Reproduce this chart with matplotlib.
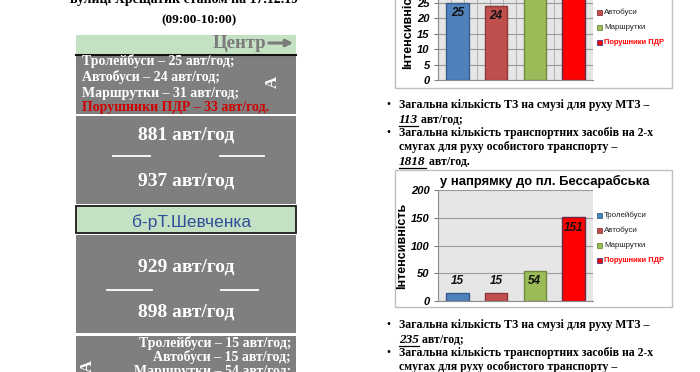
import matplotlib
matplotlib.use("Agg")
import matplotlib.pyplot as plt
from matplotlib.patches import Rectangle
import numpy as np

# ---------------- data ----------------
categories = ['Тролейбуси', 'Автобуси', 'Маршрутки', 'Порушники ПДР']
center_vals = [25, 24, 31, 33]          # у напрямку до Центру
bess_vals = [15, 15, 54, 151]           # у напрямку до пл. Бессарабська
center_flows = [881, 937]               # авт/год, смуги до Центру
bess_flows = [929, 898]                 # авт/год, смуги до пл. Бессарабська
mtz_center = 113
private_center = 1818
mtz_bess = 235
center_yticks = [0, 5, 10, 15, 20, 25, 30, 35]
bess_yticks = [0, 50, 100, 150, 200]
bess_title = 'у напрямку до пл. Бессарабська'
page_title = 'вулиці Хрещатик станом на 17.12.19'
time_label = '(09:00-10:00)'

bar_colors = ['#4f81bd', '#c0504d', '#9bbb59', '#ff0000']
bar_edges = ['#385d8a', '#8c3836', '#71893f', '#6a2a4a']

W, H = 700, 372
SERIF = ['Liberation Serif', 'DejaVu Serif']
SANS = ['Liberation Sans', 'DejaVu Sans']

fig = plt.figure(figsize=(W / 100, H / 100), dpi=100)
fig.patch.set_facecolor('white')

# page overlay in pixel coordinates
pg = fig.add_axes([0, 0, 1, 1], zorder=0)
pg.set_xlim(0, W)
pg.set_ylim(H, 0)
pg.axis('off')

GRAY = '#7f7f7f'
GREEN = '#c5e1c3'
RED_TXT = '#d00000'

# ---------- left diagram ----------
L, R = 76, 296
pg.add_patch(Rectangle((L, 35), R - L, 19, facecolor=GREEN, edgecolor='none'))
pg.plot([L, R], [54.5, 54.5], color='#111111', lw=1.5)
pg.add_patch(Rectangle((L, 55.5), R - L, 58, facecolor=GRAY, edgecolor='none'))
pg.add_patch(Rectangle((L, 116), R - L, 88, facecolor=GRAY, edgecolor='none'))
pg.add_patch(Rectangle((L, 206), R - L, 27, facecolor=GREEN, edgecolor='#1a1a1a', lw=1.3))
pg.add_patch(Rectangle((L, 235), R - L, 98, facecolor=GRAY, edgecolor='none'))
pg.add_patch(Rectangle((L, 336), R - L, 40, facecolor=GRAY, edgecolor='none'))

pg.text(70, -1, page_title, family=SERIF, weight='bold', fontsize=10, ha='left', va='center')
pg.text(199, 20, time_label, family=SERIF, weight='bold', fontsize=9.5, ha='center', va='center')

pg.text(266, 43, 'Центр', family=SERIF, weight='bold', fontsize=13.5, color='#7a7a7a', ha='right', va='center')
pg.annotate('', xy=(296, 43), xytext=(266, 43),
            arrowprops=dict(arrowstyle='-|>', color='#7a7a7a', lw=2.2, mutation_scale=10))

ys1 = [61, 77, 93, 108]
for i, (c, v) in enumerate(zip(categories, center_vals)):
    end = '.' if i == len(categories) - 1 else ';'
    col = RED_TXT if i == 3 else 'white'
    pg.text(82, ys1[i], f'{c} – {v} авт/год{end}', family=SERIF, weight='bold',
            fontsize=10, color=col, ha='left', va='center')
pg.text(273, 82, 'A', family=SERIF, weight='bold', fontsize=12, color='white',
        rotation=90, ha='center', va='center')

for txt_y, val in zip([135, 181], center_flows):
    pg.text(186, txt_y, f'{val} авт/год', family=SERIF, weight='bold', fontsize=14,
            color='white', ha='center', va='center')
pg.plot([113, 150], [156, 156], color='white', lw=1.3)
pg.plot([220, 264], [156, 156], color='white', lw=1.3)

pg.text(192, 222, 'б-рТ.Шевченка', family=SANS, fontsize=12.5, color='#2f4f9a',
        ha='center', va='center')

for txt_y, val in zip([267, 312], bess_flows):
    pg.text(186, txt_y, f'{val} авт/год', family=SERIF, weight='bold', fontsize=14,
            color='white', ha='center', va='center')
pg.plot([107, 152], [290, 290], color='white', lw=1.3)
pg.plot([221, 258], [290, 290], color='white', lw=1.3)

ys4 = [343, 357, 371]
for i in range(3):
    pg.text(291, ys4[i], f'{categories[i]} – {bess_vals[i]} авт/год;', family=SERIF,
            weight='bold', fontsize=10, color='white', ha='right', va='center')
pg.text(88, 366, 'A', family=SERIF, weight='bold', fontsize=12, color='white',
        rotation=90, ha='center', va='center')

# ---------- right side text ----------
BX, TX = 388, 399
FS = 8.5
underlined = []


def bullet_block(y1, mtz, private):
    pg.text(BX, y1, '•', family=SERIF, fontsize=FS, ha='center', va='center')
    pg.text(TX, y1, 'Загальна кількість ТЗ на смузі для руху МТЗ –', family=SERIF,
            weight='bold', fontsize=FS, ha='left', va='center')
    t = pg.text(TX, y1 + 15, f'{mtz}', family=SERIF, weight='bold', style='italic',
                fontsize=FS + 1, ha='left', va='center')
    underlined.append((t, y1 + 15, ' авт/год;'))
    y2 = y1 + 28
    pg.text(BX, y2, '•', family=SERIF, fontsize=FS, ha='center', va='center')
    pg.text(TX, y2, 'Загальна кількість транспортних засобів на 2-х', family=SERIF,
            weight='bold', fontsize=FS, ha='left', va='center')
    pg.text(TX, y2 + 14, 'смугах для руху особистого транспорту –', family=SERIF,
            weight='bold', fontsize=FS, ha='left', va='center')
    if private is not None:
        t2 = pg.text(TX, y2 + 29, f'{private}', family=SERIF, weight='bold',
                     style='italic', fontsize=FS + 1, ha='left', va='center')
        underlined.append((t2, y2 + 29, ' авт/год.'))


bullet_block(105, mtz_center, private_center)
bullet_block(325, mtz_bess, None)

# chart frames
pg.add_patch(Rectangle((395, -10), 277, 98, facecolor='white', edgecolor='#bfbfbf', lw=1))
pg.add_patch(Rectangle((395, 170), 277, 137, facecolor='white', edgecolor='#bfbfbf', lw=1))
pg.text(545, 181, bess_title, family=SANS, weight='bold', fontsize=9.4, ha='center', va='center')


# ---------- charts ----------
def px_axes(left, right, top, bottom):
    return fig.add_axes([left / W, (H - bottom) / H, (right - left) / W, (bottom - top) / H], zorder=2)


def bar_chart(ax, vals, yticks, vgrid):
    x = np.arange(len(vals))
    ax.set_facecolor('#e6e6e6')
    ax.set_xlim(-0.5, len(vals) - 0.5)
    ax.set_ylim(yticks[0], yticks[-1])
    ax.set_yticks(yticks)
    ax.set_yticklabels([str(t) for t in yticks], family=SANS, weight='bold',
                       style='italic', fontsize=8)
    ax.set_xticks([])
    ax.yaxis.grid(True, color='#9a9a9a', lw=0.8)
    if vgrid:
        ax.set_xticks(np.arange(-0.5, len(vals) - 0.5, 1 / 3), minor=True)
        ax.xaxis.grid(True, which='minor', color='#b5b5b5', lw=0.8)
        ax.tick_params(axis='x', which='minor', length=0)
    ax.set_axisbelow(True)
    ax.tick_params(axis='y', length=3, pad=3, color='#808080')
    for s in ['top', 'right']:
        ax.spines[s].set_visible(False)
    for s in ['left', 'bottom']:
        ax.spines[s].set_color('#8c8c8c')
    bars = ax.bar(x, vals, width=0.58, color=bar_colors, edgecolor=bar_edges, lw=1)
    ymax = yticks[-1]
    for xi, v in zip(x, vals):
        if v / ymax > 0.2:
            ax.annotate(f'{v}', (xi, v), xytext=(0, -7.5), textcoords='offset points',
                        ha='center', va='center', family=SANS, weight='bold',
                        style='italic', fontsize=8.5, color='#111111')
        else:
            ax.annotate(f'{v}', (xi, v), xytext=(0, 8.5), textcoords='offset points',
                        ha='center', va='center', family=SANS, weight='bold',
                        style='italic', fontsize=8.5, color='#111111')
    ax.set_ylabel('Інтенсивність', family=SANS, weight='bold', fontsize=9, labelpad=2)
    return bars


ax1 = px_axes(438, 593, -28, 80)
bar_chart(ax1, center_vals, center_yticks, True)
ax2 = px_axes(438, 593, 190, 301)
bar_chart(ax2, bess_vals, bess_yticks, False)


def legend(y0):
    for i, c in enumerate(categories):
        y = y0 + i * 15.3
        pg.add_patch(Rectangle((597, y - 2.5), 5, 5, facecolor=bar_colors[i],
                               edgecolor=bar_edges[i] if i < 3 else '#3a3a8a', lw=0.6))
        pg.text(604, y, c, family=SANS, fontsize=5.4 if i == 3 else 5.7, ha='left', va='center',
                color='#ff0000' if i == 3 else '#222222', weight='bold' if i == 3 else 'normal')


legend(-3.3)
legend(215)

# underlines and units after numbers
fig.canvas.draw()
inv = pg.transData.inverted()
for t, y, rest in underlined:
    bb = t.get_window_extent()
    (x0, _), (x1, _) = inv.transform([[bb.x0, bb.y0], [bb.x1, bb.y1]])
    pg.plot([x0, x1], [y + 6, y + 6], color='black', lw=0.9)
    pg.text(x1, y, rest, family=SERIF, weight='bold', fontsize=FS, ha='left', va='center')

fig.savefig('out.png', dpi=100)
